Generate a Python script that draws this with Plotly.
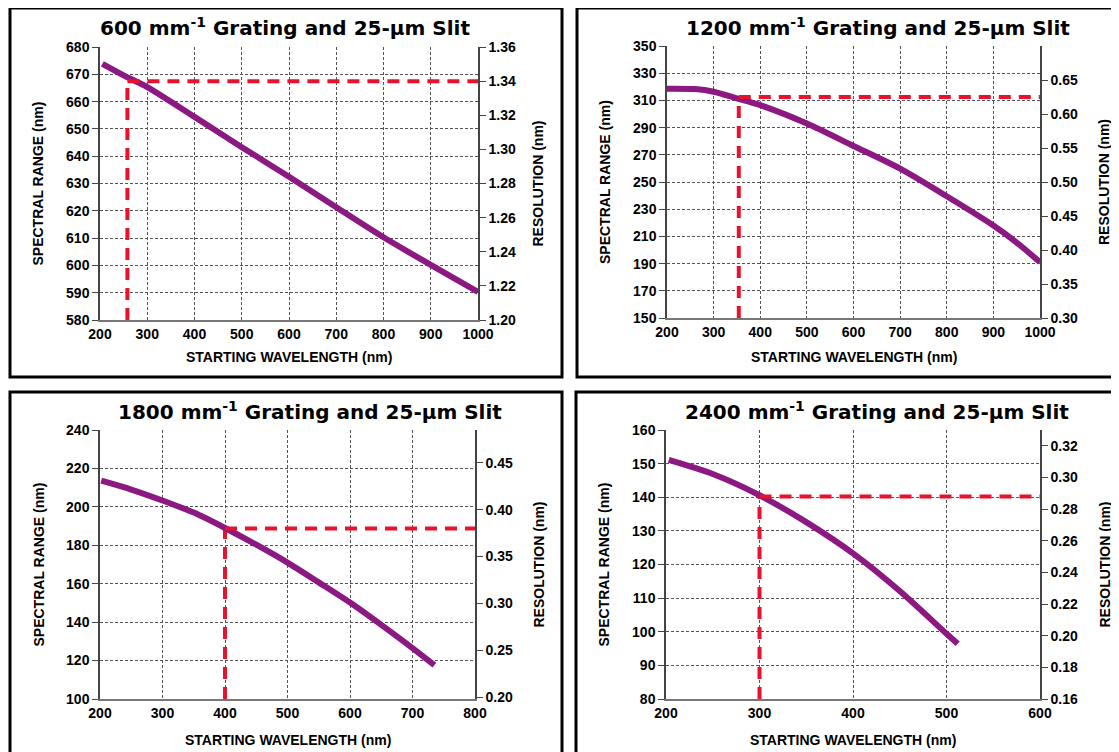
import plotly.graph_objects as go

# page shows the figure with an 8px body margin, so the figure is made
# 8px smaller and every reference pixel is shifted by 8px
OFF = 8
W, H = 1119 - OFF, 752 - OFF

# ---------------- data ----------------
titles = ["600 mm<sup>-1</sup> Grating and 25-\u03bcm Slit",
          "1200 mm<sup>-1</sup> Grating and 25-\u03bcm Slit",
          "1800 mm<sup>-1</sup> Grating and 25-\u03bcm Slit",
          "2400 mm<sup>-1</sup> Grating and 25-\u03bcm Slit"]

wl_600 = [205, 250, 300, 400, 500, 600, 700, 800, 900, 1000]
range_600 = [673.8, 669.6, 665.3, 654.4, 643.3, 632.5, 621.3, 610.3, 600.2, 590.3]

wl_1200 = [200, 260, 300, 350, 400, 500, 600, 700, 800, 900, 950, 1000]
range_1200 = [318.6, 318.3, 316.4, 311.5, 306.5, 293.0, 276.5, 259.8, 239.5, 218.0, 205.5, 191.0]

wl_1800 = [202, 250, 300, 350, 400, 450, 500, 550, 600, 650, 700, 735]
range_1800 = [213.6, 209.0, 203.3, 197.0, 189.0, 180.3, 171.0, 160.7, 150.2, 138.6, 126.5, 117.6]

wl_2400 = [203, 250, 300, 350, 400, 450, 500, 512]
range_2400 = [151.1, 146.9, 140.6, 132.6, 123.3, 112.1, 99.4, 96.4]

# reference (dashed) lines: starting wavelength, spectral range, resolution
ref_wl = [258, 354, 400, 300]
ref_range = [667.8, 312.5, 188.9, 140.2]
ref_res = [1.34, 0.625, 0.38, 0.288]

x_ranges = [[200, 1000], [200, 1000], [200, 800], [200, 600]]
y_ranges = [[580, 680], [150, 350], [100, 240], [80, 160]]
y_dticks = [10, 20, 20, 10]
res_ranges = [[1.20, 1.36], [0.30, 0.70], [0.198, 0.485], [0.16, 0.33]]
res_ticks = [[1.20, 1.22, 1.24, 1.26, 1.28, 1.30, 1.32, 1.34, 1.36],
             [0.30, 0.35, 0.40, 0.45, 0.50, 0.55, 0.60, 0.65],
             [0.20, 0.25, 0.30, 0.35, 0.40, 0.45],
             [0.16, 0.18, 0.20, 0.22, 0.24, 0.26, 0.28, 0.30, 0.32]]

curves = [(wl_600, range_600), (wl_1200, range_1200),
          (wl_1800, range_1800), (wl_2400, range_2400)]

# ---------------- layout (reference pixels) ----------------
plot_px = [(100, 478, 47, 320), (667, 1040, 46, 318),
           (100, 475, 430, 699), (666, 1040, 430, 699)]
box_px = [(10, 8, 562, 377), (577, 8, 1125, 377),
          (10, 392, 562, 760), (576, 392, 1125, 760)]
title_px = [(285, 27), (878, 27), (310, 411), (877, 411)]
ylab_x = [38, 605, 38, 603]
rlab_x = [538, 1104, 538, 1104]
xlab_y = [357, 357, 740, 740]

def PX(x):
    return (x - OFF) / W

def PY(y):
    return 1 - (y - OFF) / H

FONT = "Arial, Liberation Sans, sans-serif"
TFONT = "DejaVu Sans, Arial, sans-serif"
PURPLE = "#8c1982"
RED = "#e8122c"
GRID = "#555555"

fig = go.Figure()
layout = dict(width=W, height=H,
              margin=dict(l=0, r=0, t=0, b=0, pad=0, autoexpand=False),
              paper_bgcolor="white", plot_bgcolor="white",
              showlegend=False, font=dict(family=FONT, color="black"))
annotations = []
shapes = []
TICKFONT = dict(family=FONT, size=14, weight="bold", color="black")

for i in range(4):
    xn = "x" if i == 0 else f"x{i+1}"
    yl = 2 * i + 1
    yr = 2 * i + 2
    yln = "y" if yl == 1 else f"y{yl}"
    yrn = f"y{yr}"
    x0, x1, y0, y1 = plot_px[i]
    xdom = [PX(x0), PX(x1)]
    ydom = [PY(y1), PY(y0)]

    layout["xaxis" + ("" if i == 0 else str(i + 1))] = dict(
        domain=xdom, anchor=yln, range=x_ranges[i], dtick=100, tick0=0,
        showgrid=True, gridcolor=GRID, gridwidth=1, griddash="3px,2px",
        showline=True, linecolor="#777777", linewidth=2, automargin=False,
        ticks="", ticklen=0, zeroline=False, tickfont=TICKFONT)
    layout["yaxis" + ("" if yl == 1 else str(yl))] = dict(
        domain=ydom, anchor=xn, range=y_ranges[i], dtick=y_dticks[i],
        tick0=y_ranges[i][0], showgrid=True, gridcolor=GRID, gridwidth=1,
        griddash="3px,2px", showline=True, linecolor="#444444",
        linewidth=1.5, ticks="outside", ticklen=6, tickcolor="#444444",
        zeroline=False, tickfont=TICKFONT, automargin=False)
    layout["yaxis" + str(yr)] = dict(
        overlaying=yln, anchor=xn, side="right", range=res_ranges[i],
        tickvals=res_ticks[i], tickformat=".2f", showgrid=False,
        showline=True, linecolor="#444444", linewidth=1.5,
        ticks="outside", ticklen=6, tickcolor="#444444", zeroline=False,
        tickfont=TICKFONT, automargin=False)

    wl, sr = curves[i]
    # vertical dashed reference line (spectral range axis)
    fig.add_trace(go.Scatter(
        x=[ref_wl[i], ref_wl[i]], y=[y_ranges[i][0], ref_range[i]],
        mode="lines", xaxis=xn, yaxis=yln, cliponaxis=False,
        line=dict(color=RED, width=4, dash="12px,8px"), hoverinfo="skip"))
    # horizontal dashed reference line (resolution axis)
    fig.add_trace(go.Scatter(
        x=[ref_wl[i], x_ranges[i][1]], y=[ref_res[i], ref_res[i]],
        mode="lines", xaxis=xn, yaxis=yrn,
        line=dict(color=RED, width=4, dash="12px,8px"), hoverinfo="skip"))
    # curve
    fig.add_trace(go.Scatter(
        x=wl, y=sr, mode="lines", xaxis=xn, yaxis=yln,
        line=dict(color=PURPLE, width=6, shape="spline", smoothing=0.8)))

    # panel frame
    bx0, by0, bx1, by1 = box_px[i]
    shapes.append(dict(type="rect", xref="paper", yref="paper",
                       x0=PX(bx0), x1=PX(bx1), y0=PY(by1), y1=PY(by0),
                       line=dict(color="black", width=3), layer="above"))

    tx, ty = title_px[i]
    annotations.append(dict(text=titles[i], x=PX(tx), y=PY(ty),
                            xref="paper", yref="paper", showarrow=False,
                            xanchor="center", yanchor="middle",
                            font=dict(family=TFONT, size=20, weight="bold")))
    ymid = PY((y0 + y1) / 2)
    annotations.append(dict(text="SPECTRAL RANGE (nm)", x=PX(ylab_x[i]),
                            y=ymid, xref="paper", yref="paper",
                            showarrow=False, textangle=-90,
                            xanchor="center", yanchor="middle",
                            font=dict(family=FONT, size=14, weight="bold")))
    annotations.append(dict(text="RESOLUTION (nm)", x=PX(rlab_x[i]),
                            y=ymid, xref="paper", yref="paper",
                            showarrow=False, textangle=-90,
                            xanchor="center", yanchor="middle",
                            font=dict(family=FONT, size=14, weight="bold")))
    annotations.append(dict(text="STARTING WAVELENGTH (nm)",
                            x=PX((x0 + x1) / 2), y=PY(xlab_y[i]),
                            xref="paper", yref="paper", showarrow=False,
                            xanchor="center", yanchor="middle",
                            font=dict(family=FONT, size=14, weight="bold")))

layout["annotations"] = annotations
layout["shapes"] = shapes
fig.update_layout(**layout)
fig.write_html("out.html")
